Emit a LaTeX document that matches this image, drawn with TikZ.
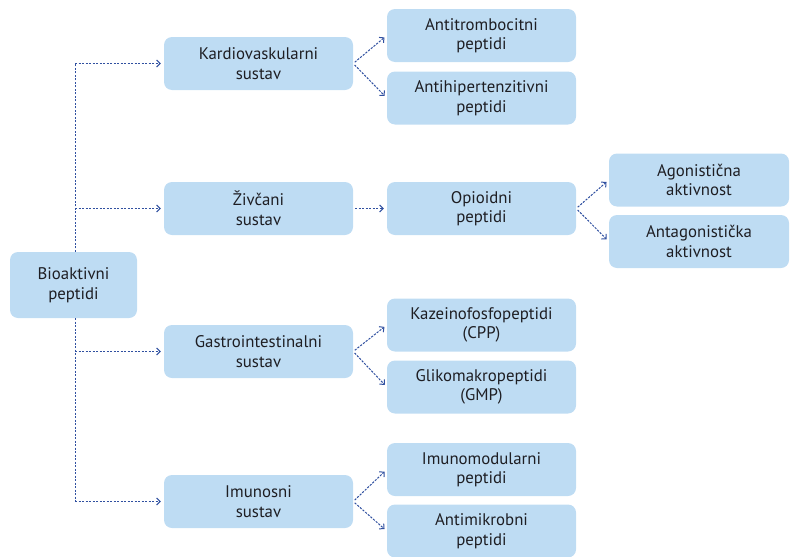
\documentclass[tikz,border=0pt]{standalone}
\usepackage{fontspec}
\setmainfont{PT Sans}
\usepackage{tikz}
\usetikzlibrary{arrows.meta, positioning, calc}
\definecolor{boxblue}{RGB}{190, 220, 243}
\definecolor{linkblue}{RGB}{48, 80, 160}
\definecolor{inkgray}{RGB}{30, 30, 35}
\tikzset{
  catbox/.style={rectangle, rounded corners=8pt, fill=boxblue, text=inkgray, align=center,
    minimum width=#1, minimum height=53pt, inner sep=2pt, font=\fontsize{16.8}{19.5}\selectfont},
  catbox/.default=189pt,
  link/.style={draw=linkblue, line width=1pt, dash pattern=on 2.2pt off 1.3pt,
    -{Straight Barb[length=3.5pt, width=7pt, line width=1pt]}, shorten >=3pt},
}
\begin{document}
\begin{tikzpicture}[x=1pt, y=-1pt]
\useasboundingbox (0,0) rectangle (790,557);
% root
\node[catbox=127pt, minimum height=66pt] (root) at (73.5,285) {Bioaktivni\\peptidi};
% systems
\node[catbox] (kardio) at (258.5,63.5) {Kardiovaskularni\\sustav};
\node[catbox] (zivcani) at (258.5,208.5) {Živčani\\sustav};
\node[catbox] (gastro) at (258.5,351.5) {Gastrointestinalni\\sustav};
\node[catbox] (imuno) at (258.5,501.5) {Imunosni\\sustav};
% peptides
\node[catbox] (antitromb) at (481.5,35.5) {Antitrombocitni\\peptidi};
\node[catbox] (antihiper) at (481.5,98) {Antihipertenzitivni\\peptidi};
\node[catbox] (opioid) at (481.5,208.5) {Opioidni\\peptidi};
\node[catbox] (cpp) at (481.5,325) {Kazeinofosfopeptidi\\(CPP)};
\node[catbox] (gmp) at (481.5,387) {Glikomakropeptidi\\(GMP)};
\node[catbox] (imunomod) at (481.5,469.5) {Imunomodularni\\peptidi};
\node[catbox] (antimikrob) at (481.5,531) {Antimikrobni\\peptidi};
% activity
\node[catbox=180pt] (agonist) at (699,180) {Agonistična\\aktivnost};
\node[catbox=180pt] (antagonist) at (699,241.5) {Antagonistička\\aktivnost};

% trunk
\coordinate (top) at (75,63.5);
\coordinate (bottom) at (75,501.5);
\draw[link, -, shorten >=0pt] (root.north -| top) -- (top);
\draw[link, -, shorten >=0pt] (root.south -| top) -- (bottom);
\foreach \sys in {kardio, zivcani, gastro, imuno}
  \draw[link] (top |- \sys.west) -- (\sys.west);
% branches
\draw[link, shorten <=2pt] (kardio.east) -- (antitromb.west);
\draw[link, shorten <=2pt] (kardio.east) -- (antihiper.west);
\draw[link, shorten <=2pt] (zivcani.east) -- (opioid.west);
\draw[link, shorten <=2pt] (gastro.east) -- (cpp.west);
\draw[link, shorten <=2pt] (gastro.east) -- (gmp.west);
\draw[link, shorten <=2pt] (imuno.east) -- (imunomod.west);
\draw[link, shorten <=2pt] (imuno.east) -- (antimikrob.west);
\draw[link, shorten <=2pt] (opioid.east) -- (agonist.west);
\draw[link, shorten <=2pt] (opioid.east) -- (antagonist.west);
\end{tikzpicture}
\end{document}
